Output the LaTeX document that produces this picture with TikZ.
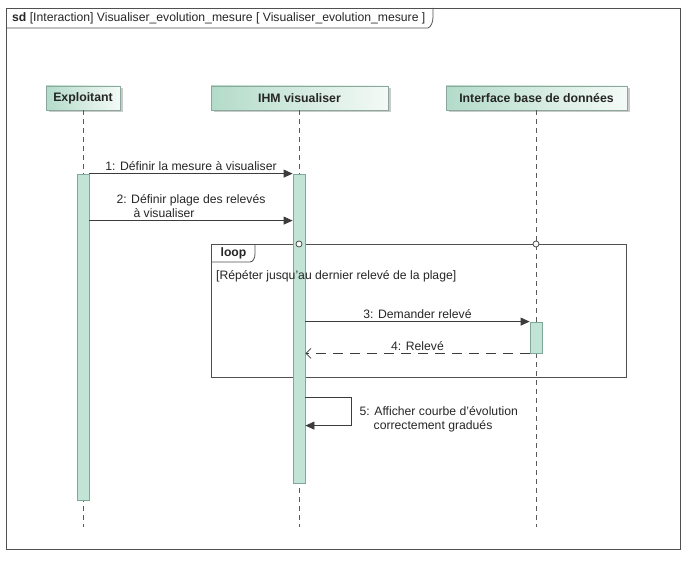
\documentclass[tikz,border=0pt]{standalone}
\usepackage{fontspec}
\setmainfont{Liberation Sans}
\usetikzlibrary{arrows.meta,calc,shadows}
\definecolor{linec}{HTML}{3C3C3C}
\definecolor{framec}{HTML}{505050}
\definecolor{barfill}{HTML}{C2E4D6}
\definecolor{barline}{HTML}{7FA898}
\definecolor{headl}{HTML}{B3DBC9}
\definecolor{headr}{HTML}{F4FAF7}
\definecolor{headline}{HTML}{8AA89C}
\tikzset{
  every node/.style={font=\fontsize{12.2}{14}\selectfont, text=black!85},
  head/.style={draw=headline, left color=headl, right color=headr, minimum height=24, inner sep=2,
    font=\fontsize{12.3}{14}\selectfont\bfseries,
    drop shadow={shadow xshift=2.5pt, shadow yshift=-2.5pt, fill=black!35, opacity=0.6}},
  lifeline/.style={draw=linec!85, dash pattern=on 5pt off 4pt, line width=0.7pt},
  actbar/.style={draw=barline, fill=barfill, minimum width=12, inner sep=0, line width=0.8pt},
  msg/.style={draw=linec, line width=0.8pt, -{Triangle[length=9pt,width=8pt]}},
  retmsg/.style={draw=linec, line width=0.8pt, dash pattern=on 10pt off 7pt, -{Straight Barb[length=5pt,width=10pt]}},
  lbl/.style={inner sep=1.5pt, align=left},
  gate/.style={circle, draw=linec, fill=white, inner sep=0, minimum size=6, line width=0.7pt},
  framebox/.style={draw=framec, line width=0.9pt, inner sep=0, anchor=north west}
}
\begin{document}
\begin{tikzpicture}[x=1pt,y=-1pt]
\useasboundingbox (0,0) rectangle (693,564);
% outer frame
\node[framebox, minimum width=674, minimum height=541] (frame) at (6,8) {};
\draw[framec, line width=0.8pt] (6,28) -- (428,28) .. controls (431,27) and (433,22) .. (433,17) -- (433,8);
\node[anchor=west, inner sep=0] (title) at (12,18) {\textbf{sd} [Interaction] Visualiser\_evolution\_mesure [ Visualiser\_evolution\_mesure ]};

% loop fragment
\node[framebox, minimum width=415, minimum height=133] (loop) at (211,244) {};
\draw[framec, line width=0.8pt] (211,262) -- (250,262) .. controls (253,262) and (255,258) .. (255,254) -- (255,244);
\node[inner sep=0] (looplbl) at (233.5,253.5) {\textbf{loop}};

% lifeline heads
\node[head, minimum width=74] (exp) at (83,98) {Exploitant};
\node[head, minimum width=177] (ihm) at (299.5,98) {IHM visualiser};
\node[head, minimum width=181] (ibd) at (536.5,98) {Interface base de données};

% lifelines
\coordinate (expend) at (83,527);
\coordinate (ihmend) at (299,527);
\coordinate (ibdend) at (536,527);
\draw[lifeline] (exp.south -| expend) -- (expend);
\draw[lifeline] (ihm.south -| ihmend) -- (ihmend);
\draw[lifeline] (ibd.south -| ibdend) -- (ibdend);

% activation bars
\node[actbar, minimum height=326] (expbar) at (83,337) {};
\node[actbar, minimum height=309] (ihmbar) at (299,328.5) {};
\node[actbar, minimum height=31] (ibdbar) at (536,337.5) {};

% guard (drawn over the bar)
\node[anchor=west, inner sep=0] (guard) at (216,276) {[Répéter jusqu'au dernier relevé de la plage]};

% gates on loop top
\node[gate] (g1) at (ihmend |- loop.north) {};
\node[gate] (g2) at (ibdend |- loop.north) {};

% messages
\draw[msg] (expbar.north east) -- node[lbl, midway, above=1pt] (l1) {1: Définir la mesure à visualiser} (ihmbar.north west);
\draw[msg] ($(expbar.north east)+(0,47)$) -- node[lbl, midway, above=1pt] (l2) {2: Définir plage des relevés\\\hspace{17pt}à visualiser} ($(ihmbar.north west)+(0,47)$);
\draw[msg] (ihmbar.east |- ibdbar.north) -- node[lbl, midway, above=1pt] (l3) {3: Demander relevé} (ibdbar.north west);
\draw[retmsg] (ibdbar.south west) -- node[lbl, midway, above=1pt] (l4) {4: Relevé} (ihmbar.east |- ibdbar.south);
\draw[msg] ($(ihmbar.north east)+(0,224)$) -- ++(46,0) -- ++(0,28) -- ($(ihmbar.north east)+(0,252)$);
\node[lbl, anchor=west] (l5) at (358,419) {5: Afficher courbe d'évolution\\\hspace{14pt}correctement gradués};
\end{tikzpicture}
\end{document}
